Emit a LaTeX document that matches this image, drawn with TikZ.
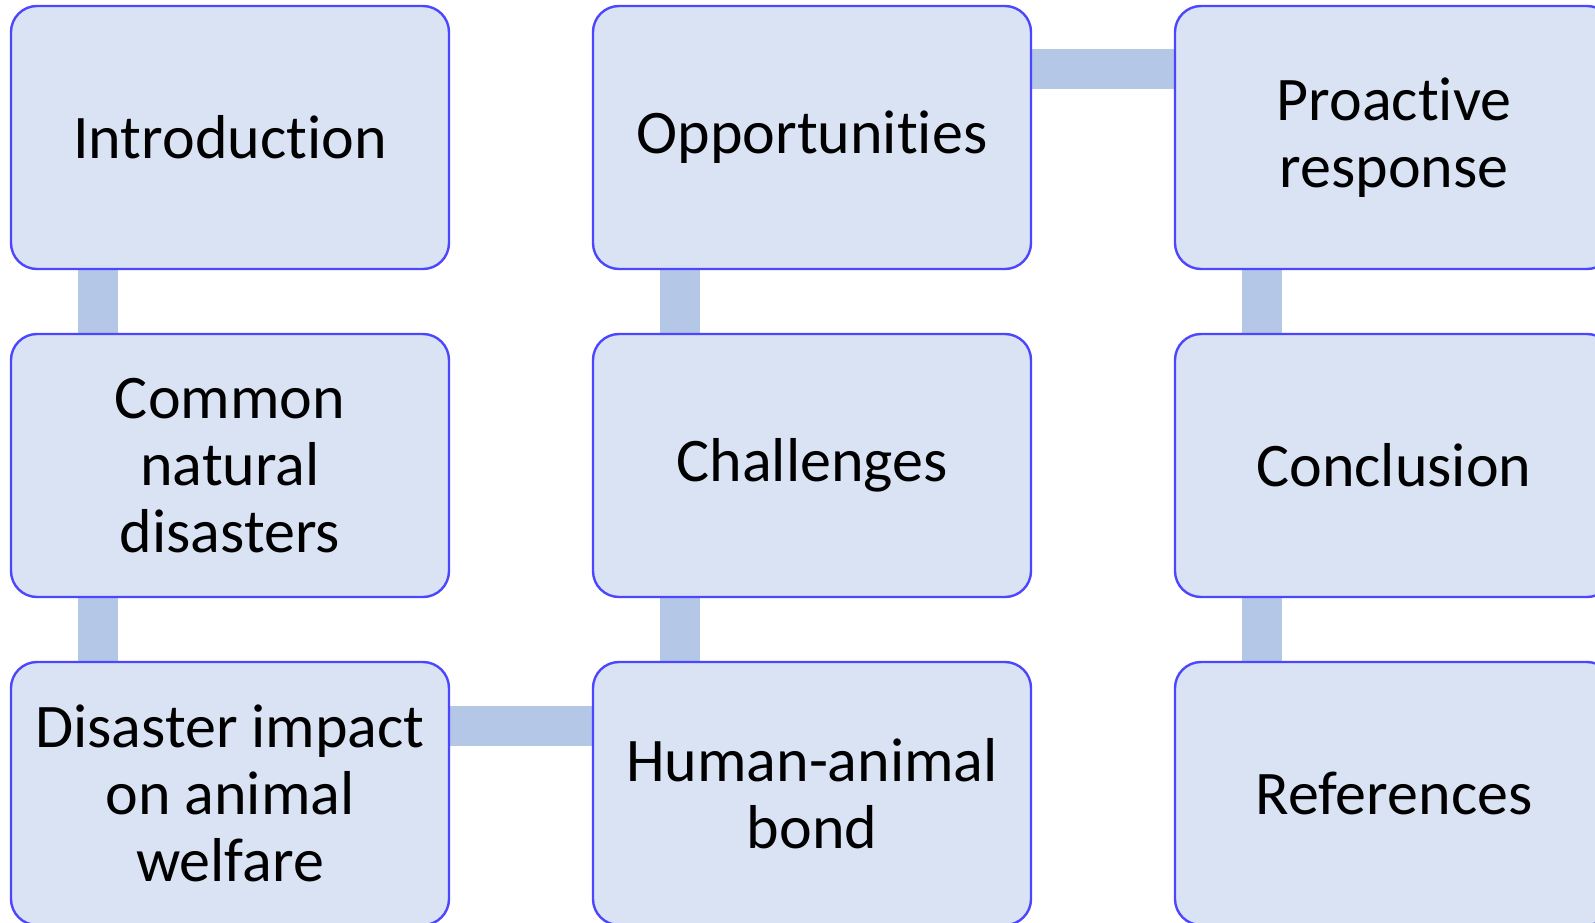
\documentclass[tikz,border=0pt]{standalone}
\usepackage{fontspec}
\setmainfont{Carlito}[Ligatures=NoCommon]
\usetikzlibrary{backgrounds}
\definecolor{boxfill}{RGB}{218,227,243}
\definecolor{boxline}{RGB}{76,70,255}
\definecolor{linkcol}{RGB}{180,199,231}
\begin{document}
\begin{tikzpicture}[x=1pt,y=-1pt,
  topic/.style={draw=boxline, line width=2.4pt, fill=boxfill, rounded corners=26pt,
    minimum width=438pt, minimum height=263pt, inner sep=0pt, align=center,
    font=\fontsize{62}{67}\selectfont},
  link/.style={draw=linkcol, line width=40pt}]
  \useasboundingbox (0,0) rectangle (1595,923);
  \begin{scope}
  \clip (0,0) rectangle (1595,923);
  % first column
  \node[topic] (intro)   at (230,137.5) {Introduction};
  \node[topic] (common)  at (230,465.5) {Common\\natural\\disasters};
  \node[topic] (impact)  at (230,793.5) {Disaster impact\\on animal\\welfare};
  % second column
  \node[topic] (opp)     at (812,137.5) {Opportunities};
  \node[topic] (chall)   at (812,465.5) {Challenges};
  \node[topic] (bond)    at (812,793.5) {Human-animal\\bond};
  % third column
  \node[topic] (proact)  at (1394,137.5) {Proactive\\response};
  \node[topic] (concl)   at (1394,465.5) {Conclusion};
  \node[topic] (refs)    at (1394,793.5) {References};
  % connecting bars behind the boxes
  \begin{scope}[on background layer]
    \draw[link] ([xshift=88pt]intro.south west) -- ([xshift=88pt]common.north west);
    \draw[link] ([xshift=88pt]common.south west) -- ([xshift=88pt]impact.north west);
    \draw[link] ([yshift=-65pt]impact.north east) -- ([yshift=-65pt]bond.north west);
    \draw[link] ([xshift=88pt]bond.north west) -- ([xshift=88pt]chall.south west);
    \draw[link] ([xshift=88pt]chall.north west) -- ([xshift=88pt]opp.south west);
    \draw[link] ([yshift=-64pt]opp.north east) -- ([yshift=-64pt]proact.north west);
    \draw[link] ([xshift=88pt]proact.south west) -- ([xshift=88pt]concl.north west);
    \draw[link] ([xshift=88pt]concl.south west) -- ([xshift=88pt]refs.north west);
  \end{scope}
  \end{scope}
\end{tikzpicture}
\end{document}
